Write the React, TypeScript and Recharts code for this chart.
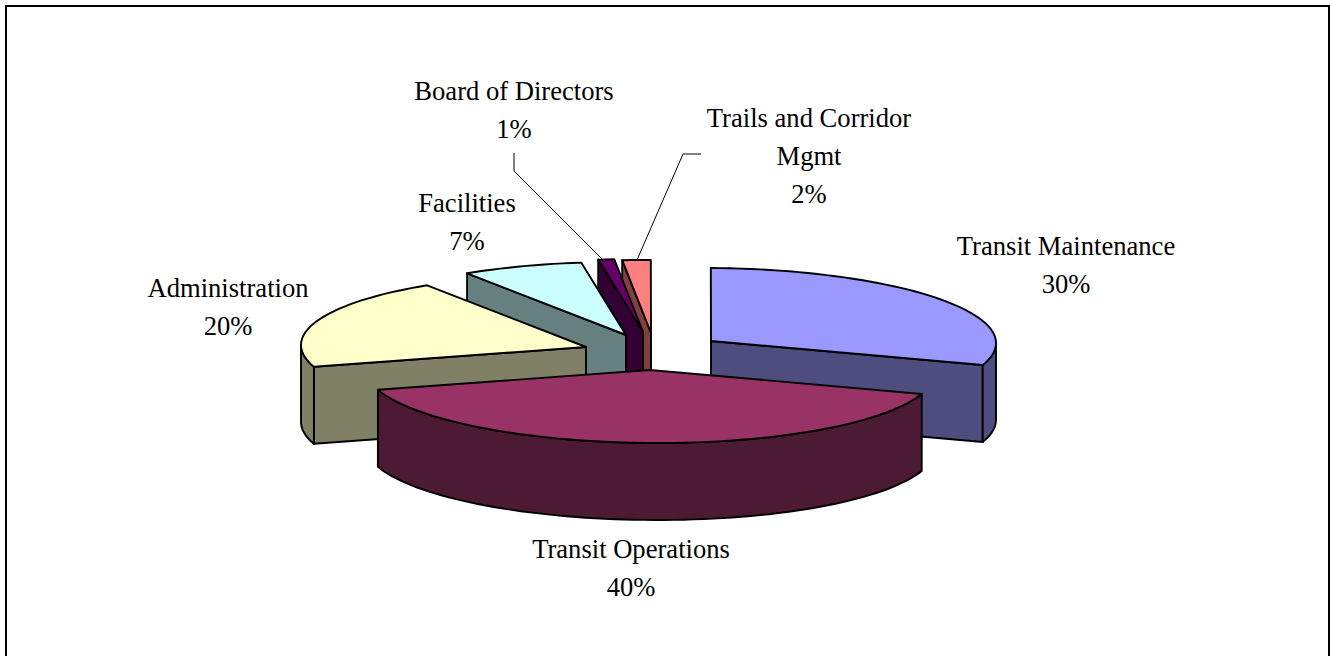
import React from 'react';
import { PieChart, Pie } from 'recharts';

// Draw order runs counter-clockwise from Transit Maintenance, back slices first.
const CATEGORIES = ['Transit Maintenance', 'Trails and Corridor Mgmt', 'Board of Directors', 'Facilities', 'Administration', 'Transit Operations'];
const VALUES = [29.9, 1.6, 0.9, 6.9, 20.4, 40.3];
const TOP_COLORS = ['#9999FF', '#FF8080', '#660066', '#CCFFFF', '#FFFFCC', '#993366'];
const SIDE_COLORS = ['#4D4D80', '#804040', '#330033', '#668080', '#808066', '#4D1A33'];

// Per-slice explosion, from the pie centre.
const EXPLODE_X = [61, 1, -7, -24, -64, 0];
const EXPLODE_Y = [-12, -20, -21, -18, -6, 17];
// Label line breaks and centres.
const LABEL_LINES = [['Transit Maintenance'], ['Trails and Corridor', 'Mgmt'], ['Board of Directors'], ['Facilities'], ['Administration'], ['Transit Operations']];
const LABEL_X = [1066, 809, 514, 467, 228, 631];
const LABEL_Y = [246, 118, 91, 203, 288, 549];
const LEADERS: (number[][] | null)[] = [null, [[701, 154], [683, 154], [637, 260]], [[514, 153], [514, 171], [603, 260]], null, null, null];

const CX = 650;
const CY = 353;
const RX = 285;
const RY = 73;
const DEPTH = 77;
const SHEAR = 0.007;
const LINE_GAP = 38;
const FONT = '"Liberation Serif", "Times New Roman", serif';

const rows = CATEGORIES.map((name, i) => ({ name, value: VALUES[i], fill: TOP_COLORS[i] }));
const rad = (a: number) => (a * Math.PI) / 180;

function Slice(props: any) {
  const { startAngle, endAngle, name, cx, cy, outerRadius } = props;
  const i = CATEGORIES.indexOf(name);
  const ax = cx + EXPLODE_X[i];
  const ay = cy + EXPLODE_Y[i];
  const k = RY / RX;
  const pt = (a: number, down = 0): [number, number] => {
    const dx = outerRadius * Math.cos(rad(a));
    return [ax + dx, ay - outerRadius * k * Math.sin(rad(a)) + SHEAR * dx + down];
  };
  const apex: [number, number] = [ax, ay];
  const path = (p: [number, number][]) => 'M' + p.map((q) => q[0].toFixed(1) + ',' + q[1].toFixed(1)).join('L') + 'Z';
  const arc = (from: number, to: number, down = 0) => {
    const n = Math.max(2, Math.ceil((to - from) / 2));
    return Array.from({ length: n + 1 }, (_, j) => pt(from + ((to - from) * j) / n, down));
  };
  const side = SIDE_COLORS[i];
  const walls: React.ReactNode[] = [];
  const wall = (a: number, key: string) =>
    walls.push(<path key={key} d={path([apex, pt(a), pt(a, DEPTH), [ax, ay + DEPTH]])} fill={side} stroke="#000" strokeWidth={1.9} strokeLinejoin="round" />);
  if (Math.cos(rad(startAngle)) > 0.001) wall(startAngle, 's');
  if (Math.cos(rad(endAngle)) < -0.001) wall(endAngle, 'e');
  // Outer rim: the part of the sweep facing the viewer (180..360 degrees).
  for (const base of [-360, 0, 360]) {
    const from = Math.max(startAngle, base + 180);
    const to = Math.min(endAngle, base + 360);
    if (to > from) {
      walls.push(<path key={'r' + base} d={path([...arc(from, to), ...arc(from, to, DEPTH).reverse()])} fill={side} stroke="#000" strokeWidth={1.9} strokeLinejoin="round" />);
    }
  }
  return (
    <g>
      {walls}
      <path d={path([apex, ...arc(startAngle, endAngle)])} fill={TOP_COLORS[i]} stroke="#000" strokeWidth={1.9} strokeLinejoin="round" />
    </g>
  );
}

function SliceLabel(props: any) {
  const { name, percent } = props;
  const i = CATEGORIES.indexOf(name);
  const lines = [...LABEL_LINES[i], Math.round(percent * 100) + '%'];
  const leader = LEADERS[i];
  return (
    <g>
      {leader && <polyline points={leader.map((p) => p.join(',')).join(' ')} fill="none" stroke="#000" strokeWidth={1} />}
      <text textAnchor="middle" fontFamily={FONT} fontSize={26.6} fill="#000">
        {lines.map((t, j) => (
          <tspan key={j} x={LABEL_X[i]} y={LABEL_Y[i] + j * LINE_GAP} dominantBaseline="central">
            {t}
          </tspan>
        ))}
      </text>
    </g>
  );
}

export default function App() {
  return (
    <div style={{ position: 'fixed', left: 0, top: 0, width: 1330, height: 656, overflow: 'hidden', background: '#fff' }}>
      <div style={{ position: 'absolute', left: 5, top: 5, width: 1325, height: 670, border: '2px solid #000', boxSizing: 'border-box' }} />
      <div style={{ position: 'absolute', left: 0, top: 0 }}>
        <PieChart width={1330} height={656} margin={{ top: 0, right: 0, bottom: 0, left: 0 }}>
          <Pie
            data={rows}
            dataKey="value"
            nameKey="name"
            cx={CX}
            cy={CY}
            innerRadius={0}
            outerRadius={RX}
            startAngle={-17.6}
            endAngle={342.4}
            paddingAngle={0}
            stroke="none"
            shape={Slice}
            label={SliceLabel}
            labelLine={false}
            isAnimationActive={false}
          />
        </PieChart>
      </div>
    </div>
  );
}
